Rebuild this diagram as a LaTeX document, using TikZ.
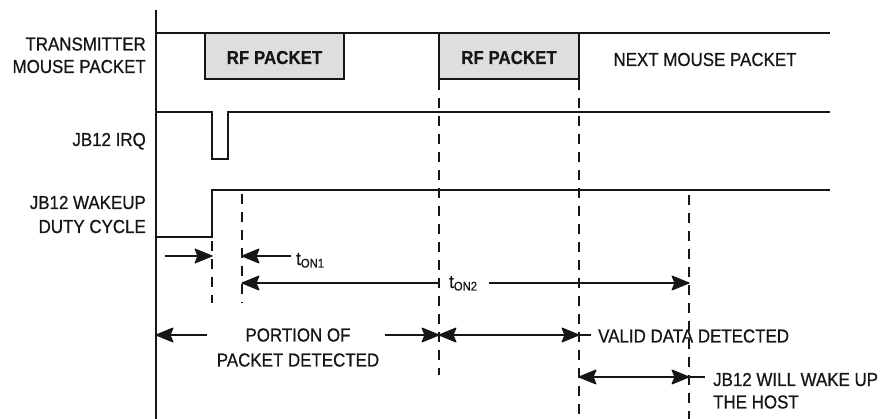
\documentclass[tikz,border=0pt]{standalone}
\usepackage{fontspec}
\setmainfont{Liberation Sans}[FakeStretch=0.9]
\newfontfamily\lblfont{Liberation Sans}[FakeStretch=0.9,FakeBold=0.7]
\newfontfamily\pktfont{Liberation Sans Bold}[FakeStretch=0.9,FakeBold=0.4]
\definecolor{ink}{HTML}{161616}
\definecolor{pktfill}{HTML}{DEDEDE}
\begin{document}
\begin{tikzpicture}[x=1pt,y=-1pt,
  wave/.style={line width=2pt, draw=ink, line join=miter},
  guide/.style={line width=1.8pt, draw=ink, dash pattern=on 10pt off 8pt},
  dim/.style={line width=1.7pt, draw=ink},
  ahead/.pic={\filldraw[ink, line width=1pt, line join=round] (0,0) -- (-17,-7) -- (-14,0) -- (-17,7) -- cycle;},
  lbl/.style={font=\lblfont\fontsize{18.8}{22}\selectfont, text=ink, inner sep=0pt},
  pktlbl/.style={font=\pktfont\fontsize{18.8}{22}\selectfont, text=ink, inner sep=0pt},
  pkt/.style={draw=ink, line width=2pt, fill=pktfill, inner sep=0pt,
    minimum height=46pt, text=ink}
]
\useasboundingbox (0,0) rectangle (881,419);

% axis
\coordinate (axtop) at (156,10);
\coordinate (axbot) at (156,419);
\draw[wave] (axtop) -- (axbot);

% transmitter line and packets
\coordinate (tx0) at (156,33);
\coordinate (tx1) at (830,33);
\node[pkt, minimum width=139pt] (rf1) at (274.5,56) {};
\node[pkt, minimum width=140pt] (rf2) at (509,56) {};
\draw[wave] (tx0) -- (tx1);
\node[pktlbl, anchor=base] (rf1t) at (274.5,64) {RF PACKET};
\node[pktlbl, anchor=base] (rf2t) at (509,64) {RF PACKET};
\node[lbl, anchor=base] (next) at (705,66) {NEXT MOUSE PACKET};

% IRQ
\coordinate (irq0) at (156,112);
\coordinate (irqa) at (212,112);
\coordinate (irqb) at (212,159);
\coordinate (irqc) at (228,159);
\coordinate (irqd) at (228,112);
\coordinate (irq1) at (830,112);
\draw[wave] (irq0) -- (irqa) -- (irqb) -- (irqc) -- (irqd) -- (irq1);

% wakeup
\coordinate (wk0) at (156,237);
\coordinate (wka) at (212,237);
\coordinate (wkb) at (212,190);
\coordinate (wk1) at (830,190);
\draw[wave] (wk0) -- (wka) -- (wkb) -- (wk1);

% left labels
\node[lbl, anchor=base east] (l1) at (146,50.5) {TRANSMITTER};
\node[lbl, anchor=base east] (l2) at (146,73) {MOUSE PACKET};
\node[lbl, anchor=base east] (l3) at (146,146) {JB12 IRQ};
\node[lbl, anchor=base east] (l4) at (146,209) {JB12 WAKEUP};
\node[lbl, anchor=base east] (l5) at (146,233) {DUTY CYCLE};

% dashed guides
\coordinate (g1a) at (212,241); \coordinate (g1b) at (212,303);
\coordinate (g2a) at (242,194); \coordinate (g2b) at (242,303);
\coordinate (g3a) at (439,80);  \coordinate (g3b) at (439,375);
\coordinate (g4a) at (579,80);  \coordinate (g4b) at (579,419);
\coordinate (g5a) at (689,195); \coordinate (g5b) at (689,419);
\draw[guide] (g1a) -- (g1b);
\draw[guide] (g2a) -- (g2b);
\draw[guide] (g3a) -- (g3b);
\draw[guide] (g4a) -- (g4b);
\draw[guide] (g5a) -- (g5b);

% tON1
\coordinate (a1s) at (165,256); \coordinate (a1e) at (212,256);
\draw[dim] (a1s) -- (a1e);
\pic at (a1e) {ahead};
\coordinate (a2s) at (291,256); \coordinate (a2e) at (242,256);
\draw[dim] (a2s) -- (a2e);
\pic[rotate=180] at (a2e) {ahead};
\node[lbl, anchor=base west] (ton1) at (296,265) {t\raisebox{-2.5pt}{\fontsize{12.5}{12}\selectfont ON1}};

% tON2
\coordinate (b1s) at (439,283); \coordinate (b1e) at (242,283);
\draw[dim] (b1s) -- (b1e);
\pic[rotate=180] at (b1e) {ahead};
\node[lbl, anchor=base west] (ton2) at (449,288) {t\raisebox{-2.5pt}{\fontsize{12.5}{12}\selectfont ON2}};
\coordinate (b2s) at (489,283); \coordinate (b2e) at (689,283);
\draw[dim] (b2s) -- (b2e);
\pic at (b2e) {ahead};

% portion of packet detected
\coordinate (c1s) at (207,335); \coordinate (c1e) at (156,335);
\draw[dim] (c1s) -- (c1e);
\pic[rotate=180] at (c1e) {ahead};
\coordinate (c2s) at (385,335); \coordinate (c2e) at (439,335);
\draw[dim] (c2s) -- (c2e);
\pic at (c2e) {ahead};
\node[lbl, anchor=base] (port1) at (298,341.5) {PORTION OF};
\node[lbl, anchor=base] (port2) at (298,366.5) {PACKET DETECTED};

% valid data detected
\coordinate (c3e) at (579,335); \coordinate (c3x) at (591,335);
\draw[dim] (c2e) -- (c3x);
\pic[rotate=180] at (c2e) {ahead};
\pic at (c3e) {ahead};
\node[lbl, anchor=base west] (valid) at (598,342.5) {VALID DATA DETECTED};

% JB12 will wake up
\coordinate (d1s) at (579,377); \coordinate (d1e) at (689,377); \coordinate (d1x) at (705,377);
\draw[dim] (d1s) -- (d1x);
\pic[rotate=180] at (d1s) {ahead};
\pic at (d1e) {ahead};
\node[lbl, anchor=base west] (wake1) at (713,386) {JB12 WILL WAKE UP};
\node[lbl, anchor=base west] (wake2) at (713,408.5) {THE HOST};
\end{tikzpicture}
\end{document}
